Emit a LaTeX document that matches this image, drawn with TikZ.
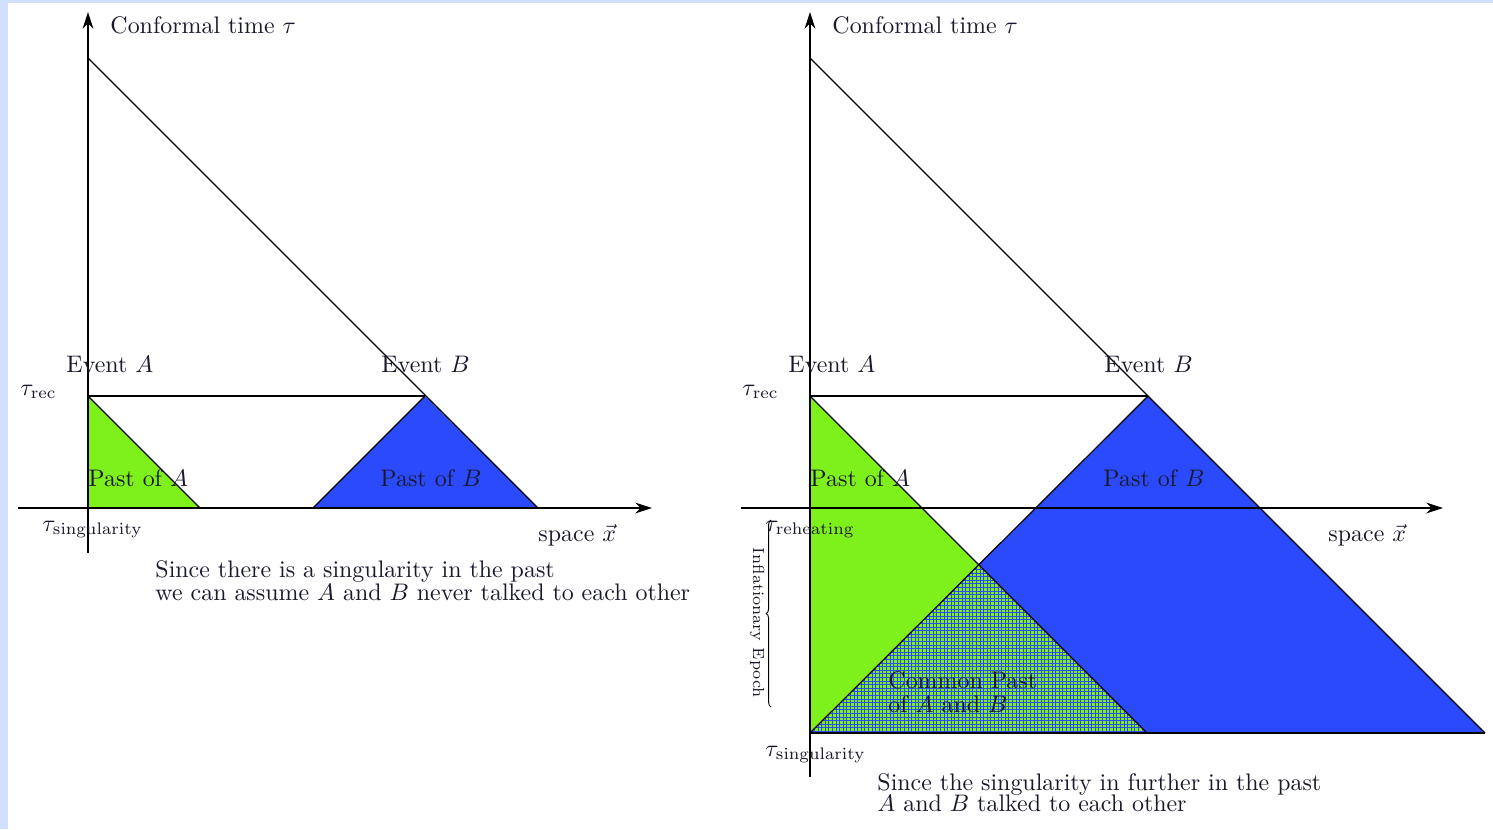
\documentclass[tikz,border=0pt]{standalone}
\usetikzlibrary{arrows.meta,decorations.pathreplacing}
\definecolor{bgblue}{RGB}{208,224,252}
\definecolor{pastgreen}{RGB}{126,240,28}
\definecolor{pastblue}{RGB}{42,74,252}
\definecolor{txt}{RGB}{25,25,45}
\begin{document}
\begin{tikzpicture}[x=0.418pt,y=-0.418pt,
  lbl/.style={inner sep=0pt, anchor=base west, text=txt},
  axis/.style={line width=0.5pt, -{Stealth[length=7pt,width=4.5pt]}},
  edgeline/.style={line width=0.5pt},
  greenfill/.style={fill=pastgreen},
  bluefill/.style={fill=pastblue}]
\fill[bgblue] (0,0) rectangle (1493,829);
\fill[white] (8,3) rectangle (1493,829);
\useasboundingbox (0,0) rectangle (1493,829);

% ---------- left diagram ----------
\coordinate (LT) at (88,58);
\coordinate (LA) at (88,396);
\coordinate (LB) at (425,396);
\coordinate (LO) at (88,508);
\coordinate (LG) at (200,508);
\coordinate (LBl) at (313,508);
\coordinate (LBr) at (538,508);
\coordinate (LYb) at (88,553);
\coordinate (LYt) at (88,12);
\coordinate (LXl) at (18,508);
\coordinate (LXr) at (652,508);

\fill[greenfill] (LA) -- (LO) -- (LG) -- cycle;
\fill[bluefill] (LBl) -- (LB) -- (LBr) -- cycle;
\draw[edgeline] (LT) -- (LBr);
\draw[edgeline] (LA) -- (LB);
\draw[edgeline] (LA) -- (LG);
\draw[edgeline] (LBl) -- (LB);
\draw[axis] (LYb) -- (LYt);
\draw[axis] (LXl) -- (LXr);

\node[lbl] (lct) at (110,33) {Conformal time $\tau$};
\node[lbl] (lea) at (66,372) {Event $A$};
\node[lbl] (leb) at (381,372) {Event $B$};
\node[lbl] (lrec) at (20,395) {$\tau_{\mathrm{rec}}$};
\node[lbl] (lpa) at (88,486) {Past of $A$};
\node[lbl] (lpb) at (380,486) {Past of $B$};
\node[lbl] (lsing) at (42,531) {$\tau_{\mathrm{singularity}}$};
\node[lbl] (lsp) at (538,541) {space $\vec{x}$};
\node[lbl] (lc1) at (155,577) {Since there is a singularity in the past};
\node[lbl] (lc2) at (155,600) {we can assume $A$ and $B$ never talked to each other};

% ---------- right diagram ----------
\coordinate (RT) at (810,58);
\coordinate (RA) at (810,396);
\coordinate (RB) at (1148,396);
\coordinate (RO) at (810,733);
\coordinate (RG) at (1147,733);
\coordinate (RBr) at (1485,733);
\coordinate (RC) at (978.5,564.5);
\coordinate (RYb) at (810,777);
\coordinate (RYt) at (810,12);
\coordinate (RXl) at (741,508);
\coordinate (RXr) at (1443,508);

\fill[greenfill] (RA) -- (RO) -- (RG) -- cycle;
\fill[bluefill] (RB) -- (RO) -- (RBr) -- cycle;
\begin{scope}
  \clip (RO) -- (RC) -- (RG) -- cycle;
  \fill[greenfill] (RO) -- (RC) -- (RG) -- cycle;
  \foreach \gx in {800,803.6,...,1160} {\draw[pastblue, line width=0.3pt] (\gx,555) -- (\gx,740);}
  \foreach \gy in {555,558.6,...,740} {\draw[pastblue, line width=0.3pt] (800,\gy) -- (1160,\gy);}
\end{scope}
\draw[edgeline] (RT) -- (RBr);
\draw[edgeline] (RA) -- (RB);
\draw[edgeline] (RA) -- (RG);
\draw[edgeline] (RB) -- (RO);
\draw[edgeline] (RO) -- (RBr);
\draw[axis] (RYb) -- (RYt);
\draw[axis] (RXl) -- (RXr);

\node[lbl] (rct) at (832,33) {Conformal time $\tau$};
\node[lbl] (rea) at (788,372) {Event $A$};
\node[lbl] (reb) at (1104,372) {Event $B$};
\node[lbl] (rrec) at (742,395) {$\tau_{\mathrm{rec}}$};
\node[lbl] (rpa) at (810,486) {Past of $A$};
\node[lbl] (rpb) at (1103,486) {Past of $B$};
\node[lbl] (rreh) at (765,531) {$\tau_{\mathrm{reheating}}$};
\node[lbl] (rsp) at (1328,541) {space $\vec{x}$};
\node[lbl] (rsing) at (765,756) {$\tau_{\mathrm{singularity}}$};
\node[lbl] (rcp1) at (888,688) {Common Past};
\node[lbl] (rcp2) at (888,712) {of $A$ and $B$};
\node[inner sep=0pt, rotate=-90, text=txt, font=\fontsize{6.7}{8}\selectfont] (rinf) at (757,623) {Inflationary Epoch};
\coordinate (brb) at (771,707);
\coordinate (brt) at (771,520);
\draw[line width=0.4pt, decorate, decoration={brace, amplitude=2pt}] (brb) -- (brt);
\node[lbl] (rc1) at (877,790) {Since the singularity in further in the past};
\node[lbl] (rc2) at (877,811) {$A$ and $B$ talked to each other};
\end{tikzpicture}
\end{document}
